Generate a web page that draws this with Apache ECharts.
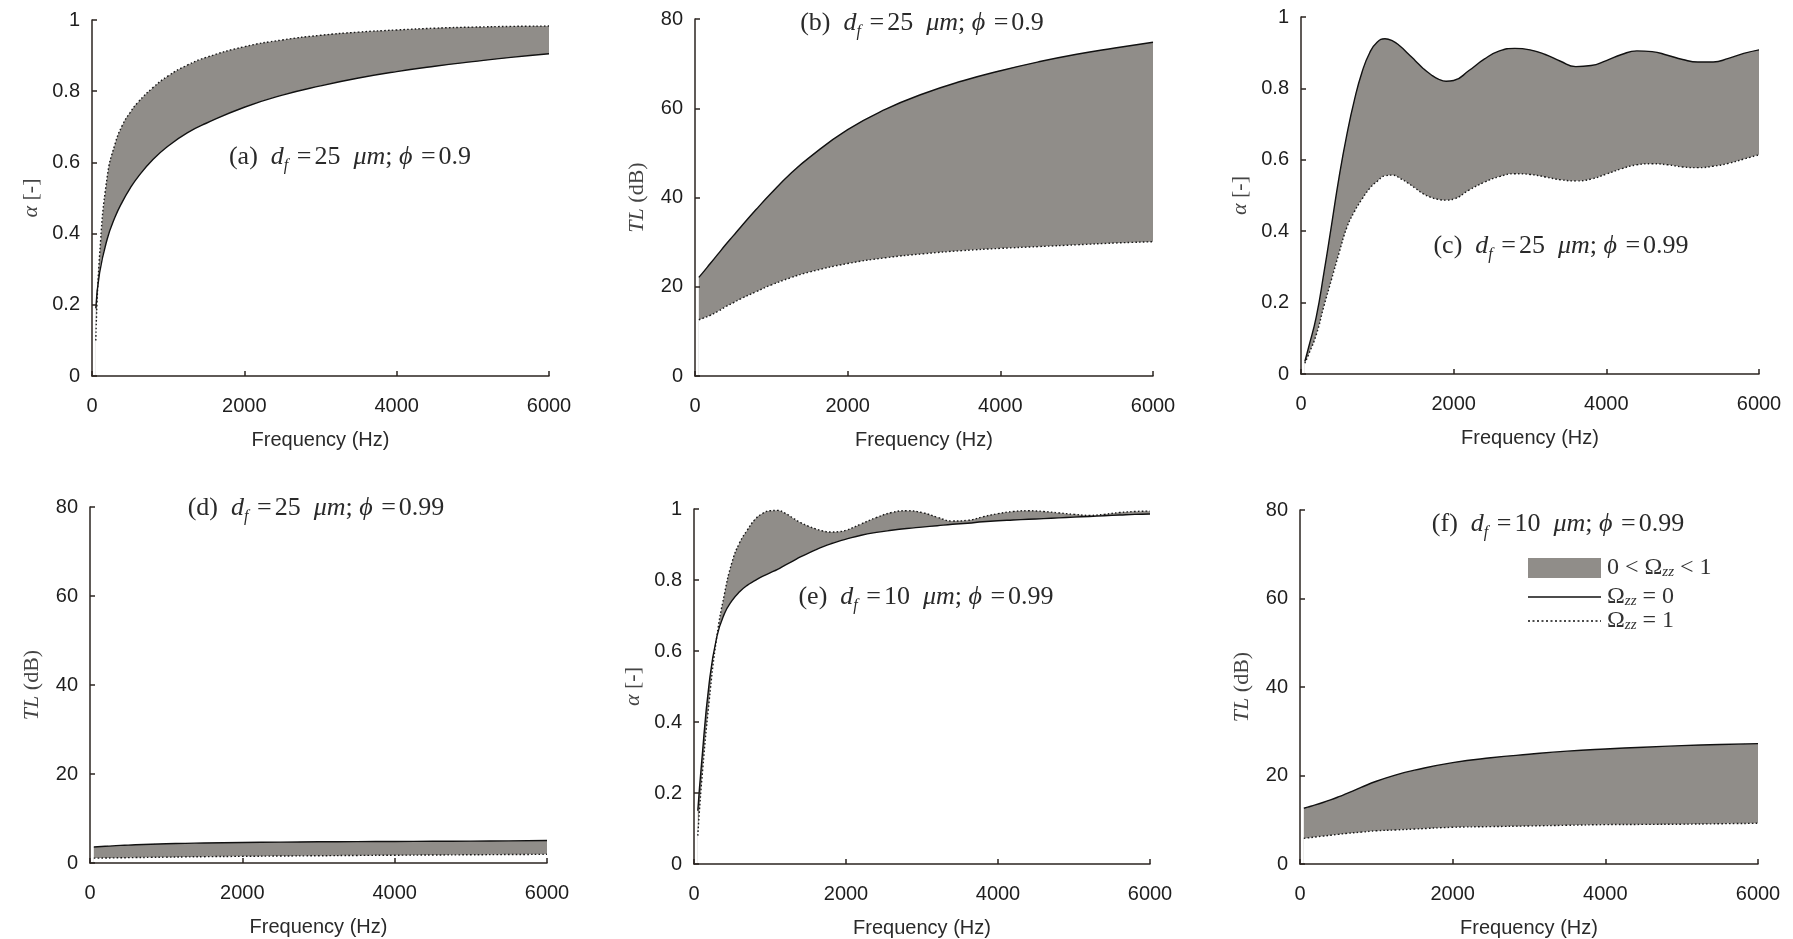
<!DOCTYPE html>
<html>
<head>
<meta charset="utf-8">
<script src="https://cdn.jsdelivr.net/npm/echarts@6/dist/echarts.min.js"></script>
<style>
html,body{margin:0;padding:0;background:#fff;}
#chart{width:1793px;height:939px;}
</style>
</head>
<body>
<div id="chart"></div>
<script>
// ---------- data ----------
const freqCoarse = [50,100,200,300,400,500,600,800,1000,1250,1500,2000,2500,3000,3500,4000,4500,5000,5500,6000];
const freqFine = [50,100,200,300,400,500,600,700,800,900,1000,1100,1200,1300,1400,1500,1600,1700,1800,1900,2000,
                  2200,2400,2600,2800,3000,3200,3400,3600,3800,4000,4200,4400,4600,4800,5000,5200,5400,5600,5800,6000];

// (a) alpha, df=25um, phi=0.9
const aOmega0 = [0.19,0.29,0.385,0.445,0.49,0.527,0.558,0.608,0.646,0.683,0.71,0.755,0.789,0.815,0.837,0.855,0.87,0.883,0.895,0.905];
const aOmega1 = [0.10,0.34,0.56,0.65,0.705,0.74,0.768,0.81,0.843,0.873,0.895,0.925,0.944,0.957,0.966,0.972,0.977,0.98,0.982,0.983];
// (b) TL, df=25um, phi=0.9
const bOmega0 = [22.1,23.1,25.2,27.3,29.4,31.4,33.4,37.3,41.0,45.3,49.0,55.2,59.8,63.3,66.1,68.4,70.4,72.1,73.5,74.8];
const bOmega1 = [12.6,12.9,13.6,14.5,15.5,16.4,17.3,18.9,20.4,22.0,23.3,25.2,26.5,27.4,28.1,28.6,29.0,29.4,29.8,30.1];
// (c) alpha, df=25um, phi=0.99
const cOmega0 = [0.035,0.075,0.16,0.283,0.417,0.553,0.67,0.768,0.846,0.9,0.93,0.939,0.933,0.918,0.898,0.877,0.856,0.839,0.826,0.82,0.822,
                 0.85,0.882,0.905,0.912,0.908,0.895,0.876,0.861,0.864,0.878,0.895,0.905,0.903,0.893,0.881,0.874,0.874,0.884,0.898,0.908];
const cOmega1 = [0.03,0.055,0.11,0.19,0.265,0.34,0.41,0.455,0.49,0.52,0.54,0.555,0.557,0.548,0.535,0.52,0.505,0.495,0.489,0.487,0.49,
                 0.515,0.537,0.553,0.561,0.559,0.552,0.544,0.541,0.546,0.56,0.575,0.586,0.589,0.586,0.58,0.578,0.582,0.59,0.602,0.614];
// (d) TL, df=25um, phi=0.99
const dOmega0 = [3.6,3.65,3.75,3.85,3.95,4.02,4.1,4.22,4.32,4.42,4.5,4.62,4.7,4.76,4.8,4.84,4.88,4.92,4.97,5.05];
const dOmega1 = [1.1,1.1,1.12,1.15,1.18,1.2,1.22,1.27,1.32,1.37,1.42,1.5,1.57,1.63,1.7,1.75,1.8,1.85,1.9,1.95];
// (e) alpha, df=10um, phi=0.99
const eOmega0 = [0.15,0.285,0.51,0.64,0.705,0.742,0.767,0.785,0.798,0.81,0.82,0.83,0.842,0.853,0.865,0.875,0.885,0.894,0.902,0.909,0.915,
                 0.926,0.934,0.94,0.945,0.949,0.953,0.957,0.96,0.964,0.967,0.969,0.971,0.973,0.975,0.977,0.979,0.981,0.983,0.985,0.986];
const eOmega1 = [0.08,0.23,0.46,0.64,0.76,0.85,0.905,0.94,0.97,0.987,0.995,0.996,0.988,0.975,0.962,0.952,0.944,0.938,0.935,0.936,0.94,
                 0.958,0.976,0.99,0.995,0.99,0.977,0.966,0.968,0.978,0.987,0.993,0.995,0.993,0.989,0.985,0.982,0.985,0.99,0.993,0.994];
// (f) TL, df=10um, phi=0.99
const fOmega0 = [12.6,12.85,13.35,13.9,14.5,15.15,15.85,17.3,18.7,20.1,21.2,22.9,24.0,24.8,25.5,26.0,26.4,26.75,27.0,27.2];
const fOmega1 = [5.8,5.9,6.1,6.3,6.5,6.7,6.9,7.2,7.5,7.7,7.9,8.3,8.45,8.6,8.75,8.9,8.95,9.0,9.1,9.2];

const xTicks = {min:0, max:6000, interval:2000};
const alphaTicks = {min:0, max:1, interval:0.2};
const tlTicks = {min:0, max:80, interval:20};

const panelLabels = ['a','b','c','d','e','f'];
const panelDf = ['25','25','25','25','10','10'];
const panelPhi = ['0.9','0.9','0.99','0.99','0.99','0.99'];
const legendLabels = ['0 < Ω{s|zz} < 1', 'Ω{s|zz} = 0', 'Ω{s|zz} = 1'];

// ---------- layout ----------
const panels = [
  {freq:freqCoarse, w0:aOmega0, w1:aOmega1, kind:'alpha', grid:{left:92, top:20, width:457, height:356}, title:[350,157]},
  {freq:freqCoarse, w0:bOmega0, w1:bOmega1, kind:'tl',    grid:{left:695, top:19, width:458, height:357}, title:[922,23]},
  {freq:freqFine,   w0:cOmega0, w1:cOmega1, kind:'alpha', grid:{left:1301, top:17, width:458, height:357}, title:[1561,246]},
  {freq:freqCoarse, w0:dOmega0, w1:dOmega1, kind:'tl',    grid:{left:90, top:507, width:457, height:356}, title:[316,508]},
  {freq:freqFine,   w0:eOmega0, w1:eOmega1, kind:'alpha', grid:{left:694, top:509, width:456, height:355}, title:[926,597]},
  {freq:freqCoarse, w0:fOmega0, w1:fOmega1, kind:'tl',    grid:{left:1300, top:510, width:458, height:355}, title:[1558,524]}
];

const BAND = '#908d89';
const AXIS = '#2b2520';
const SANS = 'Liberation Sans';
const SERIF = 'Liberation Serif';
const SMOOTH = 0.5;

const grids = [], xAxes = [], yAxes = [], series = [], graphics = [];

panels.forEach((p, i) => {
  grids.push(Object.assign({containLabel:false}, p.grid));
  xAxes.push({
    type:'value', gridIndex:i, min:xTicks.min, max:xTicks.max, interval:xTicks.interval, z:10,
    name:'Frequency (Hz)', nameLocation:'middle', nameGap:54,
    nameTextStyle:{fontFamily:SANS, fontSize:20, color:'#2a2a2a'},
    axisLine:{show:true, lineStyle:{color:AXIS, width:1.5}},
    axisTick:{show:true, inside:true, length:5, lineStyle:{color:AXIS, width:1.5}},
    axisLabel:{fontFamily:SANS, fontSize:20, color:'#1e1e1e', margin:20, formatter:(v) => String(v)},
    splitLine:{show:false}
  });
  const t = p.kind === 'alpha' ? alphaTicks : tlTicks;
  yAxes.push({
    type:'value', gridIndex:i, min:t.min, max:t.max, interval:t.interval, z:10,
    name: p.kind === 'alpha' ? '{i|α} [-]' : '{i|TL} (dB)',
    nameLocation:'middle', nameGap: p.kind === 'alpha' ? 50 : 47,
    nameTextStyle:{fontFamily:SERIF, fontSize:22, color:'#444',
      rich:{i:{fontFamily:SERIF, fontStyle:'italic', fontSize:22, color:'#444'}}},
    axisLine:{show:true, lineStyle:{color:AXIS, width:1.5}},
    axisTick:{show:true, inside:true, length:5, lineStyle:{color:AXIS, width:1.5}},
    axisLabel:{fontFamily:SANS, fontSize:20, color:'#1e1e1e', margin:12},
    splitLine:{show:false}
  });
  // band between the two curves: grey area under the upper envelope, white area under the lower one
  const upperEnv = p.freq.map((f, k) => [f, Math.max(p.w0[k], p.w1[k])]);
  const lowerEnv = p.freq.map((f, k) => [f, Math.min(p.w0[k], p.w1[k])]);
  const solid = p.freq.map((f, k) => [f, p.w0[k]]);
  const dotted = p.freq.map((f, k) => [f, p.w1[k]]);
  series.push({
    type:'line', xAxisIndex:i, yAxisIndex:i, data:upperEnv,
    smooth:SMOOTH, showSymbol:false, silent:true,
    lineStyle:{width:0, opacity:0}, areaStyle:{color:BAND, opacity:1}, z:1
  });
  series.push({
    type:'line', xAxisIndex:i, yAxisIndex:i, data:lowerEnv,
    smooth:SMOOTH, showSymbol:false, silent:true,
    lineStyle:{width:0, opacity:0}, areaStyle:{color:'#ffffff', opacity:1}, z:2
  });
  series.push({
    type:'line', xAxisIndex:i, yAxisIndex:i, data:dotted,
    smooth:SMOOTH, showSymbol:false, silent:true,
    lineStyle:{color:'#1a1a1a', width:1.4, type:[1.6,2.2]}, z:3
  });
  series.push({
    type:'line', xAxisIndex:i, yAxisIndex:i, data:solid,
    smooth:SMOOTH, showSymbol:false, silent:true,
    lineStyle:{color:'#111', width:1.4, type:'solid'}, z:4
  });

  graphics.push({
    type:'text', x:p.title[0], y:p.title[1], z:10,
    style:{
      text:'{n|(' + panelLabels[i] + ')}  {i|d}{s|f} {e|=}{n|' + panelDf[i] + '}  {i|μm}{n|;} {i|ϕ} {e|=}{n|' + panelPhi[i] + '}',
      fontFamily:SERIF, fontSize:26, fill:'#2a2a2a', align:'center', verticalAlign:'middle',
      rich:{
        n:{fontFamily:SERIF, fontSize:26, fill:'#2a2a2a', lineHeight:34},
        i:{fontFamily:SERIF, fontStyle:'italic', fontSize:26, fill:'#2a2a2a', lineHeight:34},
        e:{fontFamily:SERIF, fontSize:26, fill:'#2a2a2a', lineHeight:34, padding:[0,3,0,2]},
        s:{fontFamily:SERIF, fontStyle:'italic', fontSize:16, fill:'#2a2a2a', lineHeight:15, verticalAlign:'bottom'}
      }
    }
  });
});

// legend in panel (f)
const legRich = {
  s:{fontFamily:SERIF, fontStyle:'italic', fontSize:15, fill:'#333', lineHeight:14, verticalAlign:'bottom'}
};
graphics.push({type:'rect', shape:{x:1528, y:558, width:73, height:20}, style:{fill:BAND}, z:10});
graphics.push({type:'line', shape:{x1:1528, y1:597, x2:1601, y2:597}, style:{stroke:'#111', lineWidth:1.5}, z:10});
graphics.push({type:'line', shape:{x1:1528, y1:621, x2:1601, y2:621}, style:{stroke:'#111', lineWidth:1.5, lineDash:[2,2.5]}, z:10});
[568, 597, 621].forEach((yy, k) => {
  graphics.push({type:'text', x:1607, y:yy, z:10,
    style:{text:legendLabels[k], fontFamily:SERIF, fontSize:24, fill:'#333', align:'left', verticalAlign:'middle',
      rich:legRich}});
});

const chart = echarts.init(document.getElementById('chart'), null, {renderer:'canvas'});
chart.setOption({
  animation:false,
  backgroundColor:'#fff',
  grid:grids, xAxis:xAxes, yAxis:yAxes, series:series,
  graphic:graphics
});
</script>
</body>
</html>
